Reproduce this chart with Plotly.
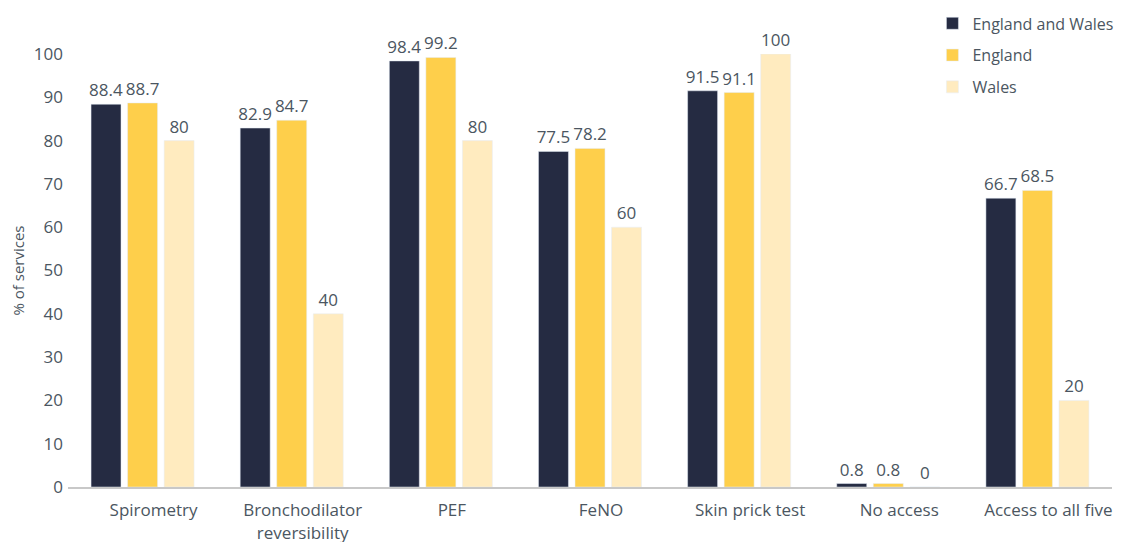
import plotly.graph_objects as go

categories = ["Spirometry", "Bronchodilator<br>reversibility", "PEF", "FeNO",
              "Skin prick test", "No access", "Access to all five"]
england_wales = [88.4, 82.9, 98.4, 77.5, 91.5, 0.8, 66.7]
england = [88.7, 84.7, 99.2, 78.2, 91.1, 0.8, 68.5]
wales = [80, 40, 80, 60, 100, 0, 20]
y_ticks = [0, 10, 20, 30, 40, 50, 60, 70, 80, 90, 100]

FONT = "Open Sans"
TEXT = "#4b5661"

series = [
    ("England and Wales", england_wales, "#252b42"),
    ("England", england, "#fecf4b"),
    ("Wales", wales, "#ffebbf"),
]

fig = go.Figure()
for i, (name, vals, col) in enumerate(series):
    fig.add_trace(go.Bar(
        name=name, x=categories, y=vals, marker_color=col,
        text=[f"{v:g}" for v in vals], textposition="outside",
        constraintext="none",
        textfont=dict(family=FONT, size=17, color=TEXT),
        cliponaxis=False, legendgroup=f"g{i}",
    ))

fig.update_layout(
    width=1116, height=534,
    margin=dict(l=60, r=12, t=46, b=55, autoexpand=False),
    plot_bgcolor="white", paper_bgcolor="white",
    barmode="group", bargap=0.265, bargroupgap=0.18,
    font=dict(family=FONT, size=17, color=TEXT),
    legend=dict(x=0.828, xanchor="left", y=1.11, yanchor="top",
                font=dict(family=FONT, size=16, color=TEXT),
                traceorder="grouped", tracegroupgap=8,
                bgcolor="rgba(0,0,0,0)"),
    showlegend=True,
)
fig.update_xaxes(showline=True, linecolor="#c8c8c8", linewidth=2,
                 ticks="", tickfont=dict(family=FONT, size=17, color=TEXT),
                 ticklabelshift=11, ticklabelstandoff=7, showgrid=False)
fig.update_yaxes(range=[0, 100], tickvals=y_ticks, showgrid=False,
                 zeroline=False, showline=False, ticks="",
                 ticklabelstandoff=4,
                 tickfont=dict(family=FONT, size=17, color=TEXT),
                 title=dict(text="% of services", standoff=10,
                            font=dict(family=FONT, size=15, color=TEXT)))

fig.write_html("out.html")
